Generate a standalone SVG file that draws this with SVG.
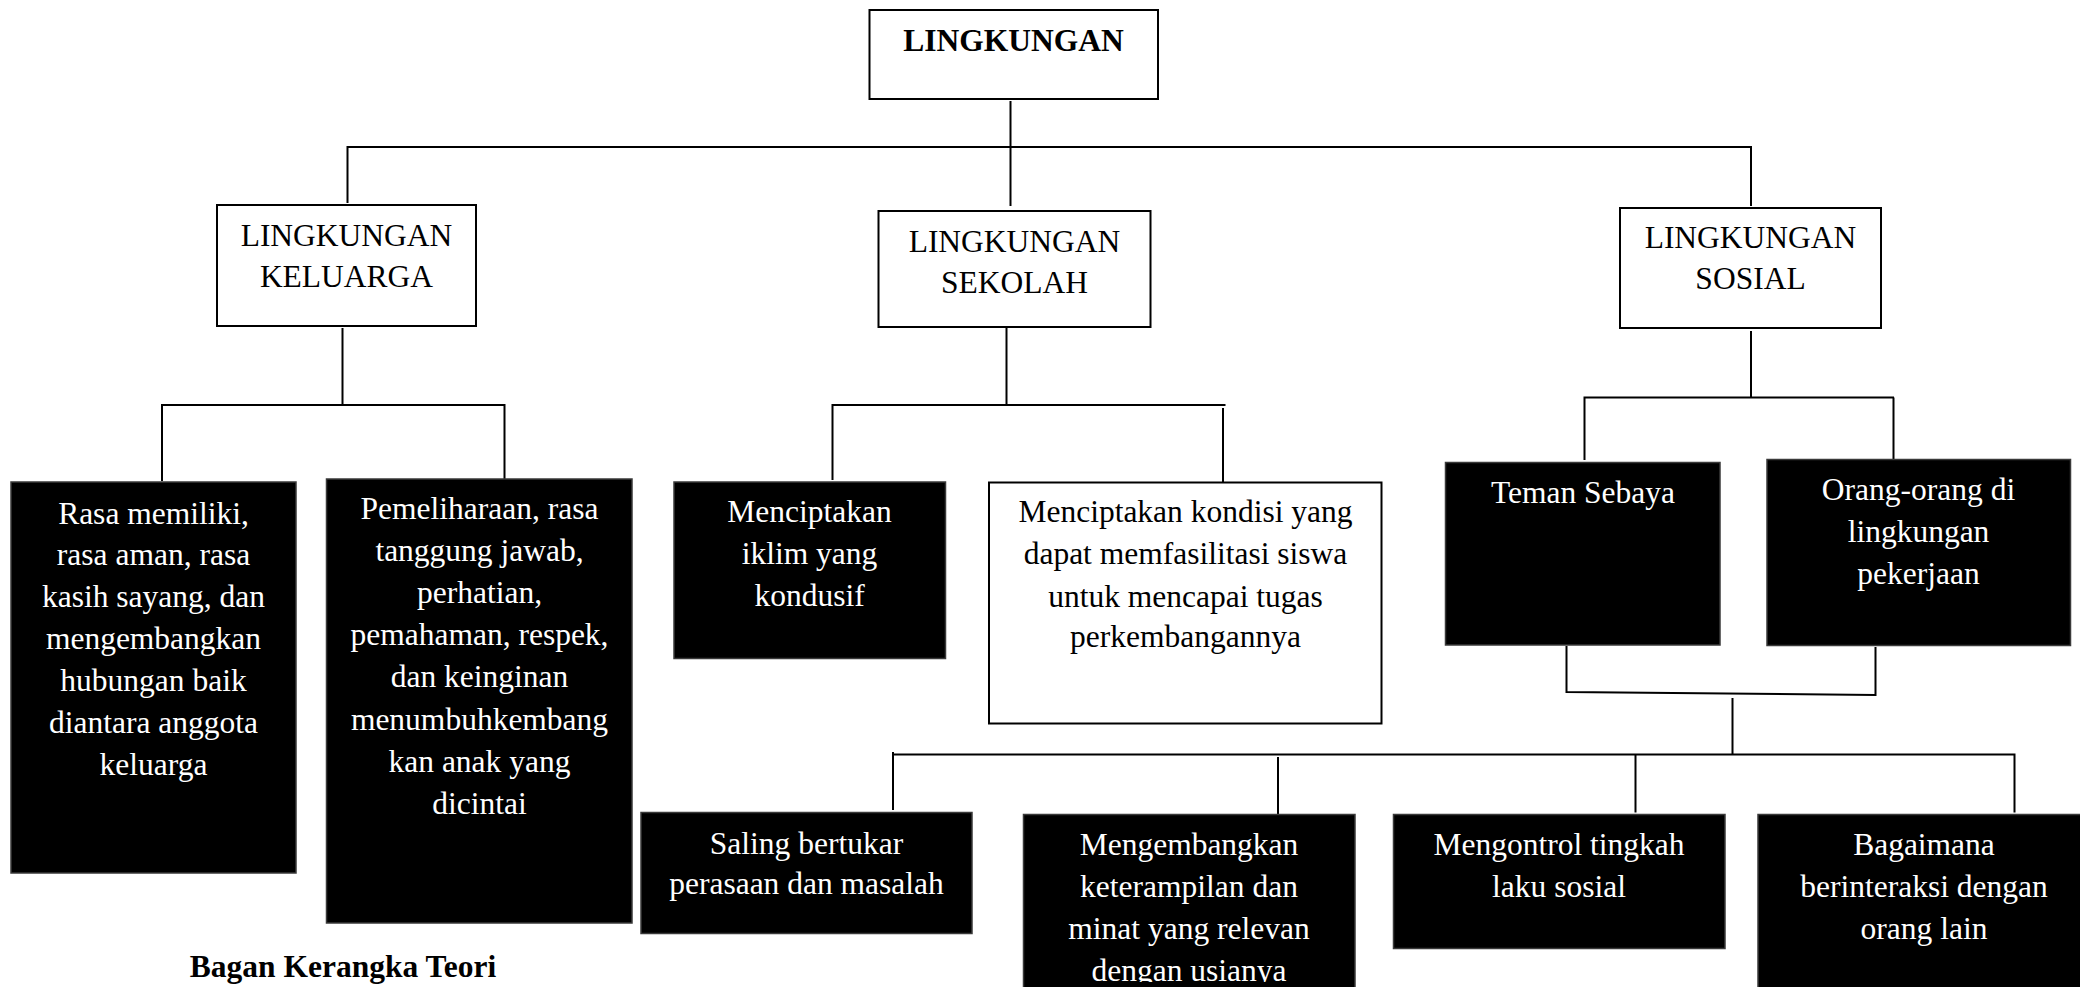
<svg xmlns="http://www.w3.org/2000/svg" width="2080" height="987" viewBox="0 0 2080 987">
<style>
.wb{fill:#fff;stroke:#000;stroke-width:2}
.bb{fill:#000;stroke:#3a3a3a;stroke-width:1.5}
.t{font-family:"Liberation Serif","Times New Roman",serif;font-size:31.5px;text-anchor:middle}
.tw{fill:#fff}
.tk{fill:#000}
.b{font-weight:bold}
.c{fill:none;stroke:#000;stroke-width:2}
</style>
<defs>
<clipPath id="clipBottom"><rect x="0" y="0" width="2080" height="982"/></clipPath>
</defs>
<rect width="2080" height="987" fill="#fff"/>
<g id="connectors" class="c">
<path d="M1010.5 101V206"/>
<path d="M347.5 203V147H1751V206"/>
<path d="M342.5 328V405"/>
<path d="M162 481V405H504.5V479"/>
<path d="M1006.5 328V405"/>
<path d="M832.5 480V405H1225.5"/>
<path d="M1223 408V484"/>
<path d="M1751 331V397"/>
<path d="M1584.5 460V397.5H1894"/>
<path d="M1893.5 397.5V459"/>
<path d="M1566.5 646V692L1875.5 695V647"/>
<path d="M1732.5 698V754.5"/>
<path d="M893 752V754.5H2014.5V812.5"/>
<path d="M893 754.5V810"/>
<path d="M1278 757V814"/>
<path d="M1635.5 754.5V812.5"/>
</g>
<g id="n-lingkungan">
<rect class="wb" x="869.5" y="10" width="288.5" height="89"/>
<text class="t tk b" x="1013.5" y="51" font-size="32">LINGKUNGAN</text>
</g>
<g id="n-keluarga">
<rect class="wb" x="217" y="205" width="259" height="121"/>
<text class="t tk" x="346.5" y="246">LINGKUNGAN</text>
<text class="t tk" x="346.5" y="287">KELUARGA</text>
</g>
<g id="n-sekolah">
<rect class="wb" x="878.5" y="211" width="272" height="116"/>
<text class="t tk" x="1014.5" y="252">LINGKUNGAN</text>
<text class="t tk" x="1014.5" y="293">SEKOLAH</text>
</g>
<g id="n-sosial">
<rect class="wb" x="1620" y="208" width="261" height="120"/>
<text class="t tk" x="1750.5" y="248">LINGKUNGAN</text>
<text class="t tk" x="1750.5" y="289">SOSIAL</text>
</g>
<g id="n-rasa">
<rect class="bb" x="11" y="482" width="285" height="391"/>
<text class="t tw" x="153.5" y="523.5">Rasa memiliki,</text>
<text class="t tw" x="153.5" y="565">rasa aman, rasa</text>
<text class="t tw" x="153.5" y="607">kasih sayang, dan</text>
<text class="t tw" x="153.5" y="649">mengembangkan</text>
<text class="t tw" x="153.5" y="691">hubungan baik</text>
<text class="t tw" x="153.5" y="733">diantara anggota</text>
<text class="t tw" x="153.5" y="775">keluarga</text>
</g>
<g id="n-pemeliharaan">
<rect class="bb" x="326.5" y="479" width="305.5" height="444"/>
<text class="t tw" x="479.5" y="518.5">Pemeliharaan, rasa</text>
<text class="t tw" x="479.5" y="560.5">tanggung jawab,</text>
<text class="t tw" x="479.5" y="603">perhatian,</text>
<text class="t tw" x="479.5" y="645">pemahaman, respek,</text>
<text class="t tw" x="479.5" y="687">dan keinginan</text>
<text class="t tw" x="479.5" y="729.5">menumbuhkembang</text>
<text class="t tw" x="479.5" y="771.5">kan anak yang</text>
<text class="t tw" x="479.5" y="814">dicintai</text>
</g>
<g id="n-iklim">
<rect class="bb" x="674" y="482" width="271.5" height="176.5"/>
<text class="t tw" x="809.5" y="521.5">Menciptakan</text>
<text class="t tw" x="809.5" y="563.5">iklim yang</text>
<text class="t tw" x="809.5" y="606">kondusif</text>
</g>
<g id="n-kondisi">
<rect class="wb" x="989" y="482.5" width="392.5" height="241"/>
<text class="t tk" x="1185.5" y="521.5">Menciptakan kondisi yang</text>
<text class="t tk" x="1185.5" y="563.5">dapat memfasilitasi siswa</text>
<text class="t tk" x="1185.5" y="606.5">untuk mencapai tugas</text>
<text class="t tk" x="1185.5" y="647">perkembangannya</text>
</g>
<g id="n-teman">
<rect class="bb" x="1445.5" y="462.5" width="274.5" height="182.5"/>
<text class="t tw" x="1583" y="502.5">Teman Sebaya</text>
</g>
<g id="n-orang">
<rect class="bb" x="1767" y="459.5" width="303.5" height="186"/>
<text class="t tw" x="1918.5" y="499.5">Orang-orang di</text>
<text class="t tw" x="1918.5" y="541.5">lingkungan</text>
<text class="t tw" x="1918.5" y="583.5">pekerjaan</text>
</g>
<g id="n-saling">
<rect class="bb" x="641" y="812.5" width="331" height="121"/>
<text class="t tw" x="806.5" y="853.5">Saling bertukar</text>
<text class="t tw" x="806.5" y="893.5">perasaan dan masalah</text>
</g>
<g id="n-mengembangkan">
<rect class="bb" x="1023.5" y="814.5" width="331.5" height="190"/>
<g clip-path="url(#clipBottom)">
<text class="t tw" x="1189" y="855">Mengembangkan</text>
<text class="t tw" x="1189" y="897">keterampilan dan</text>
<text class="t tw" x="1189" y="938.5">minat yang relevan</text>
<text class="t tw" x="1189" y="980.5">dengan usianya</text>
</g>
</g>
<g id="n-mengontrol">
<rect class="bb" x="1393.5" y="814.5" width="331.5" height="134"/>
<text class="t tw" x="1559" y="855">Mengontrol tingkah</text>
<text class="t tw" x="1559" y="897">laku sosial</text>
</g>
<g id="n-bagaimana">
<rect class="bb" x="1758" y="814.5" width="331.5" height="190"/>
<text class="t tw" x="1924" y="855">Bagaimana</text>
<text class="t tw" x="1924" y="897">berinteraksi dengan</text>
<text class="t tw" x="1924" y="939">orang lain</text>
</g>
<g id="caption">
<text class="t tk b" x="343" y="977" font-size="32">Bagan Kerangka Teori</text>
</g>
</svg>
